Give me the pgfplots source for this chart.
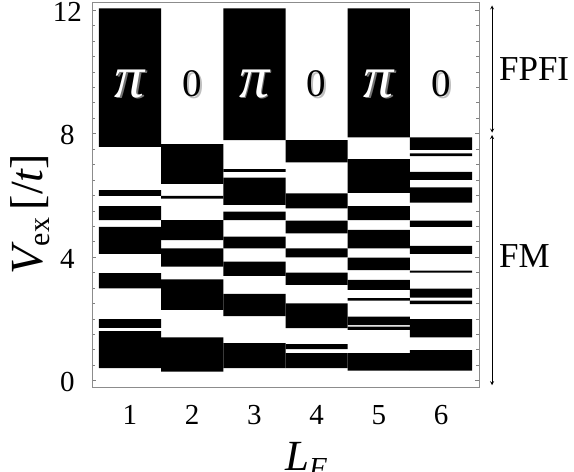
\documentclass[border=0pt]{standalone}
\usepackage{fontspec}
\setmainfont{Liberation Serif}
\usepackage{pgfplots}
\pgfplotsset{compat=1.18}
\begin{document}
\begin{tikzpicture}
\useasboundingbox (-92pt,-84.3pt) rectangle (482pt,387.7pt);
\begin{axis}[
  at={(0,0)}, anchor=south west,
  scale only axis, width=387pt, height=385.7pt,
  xmin=0.39, xmax=6.61, ymin=-0.23, ymax=12.26,
  clip=false,
  axis line style={black!45, line width=0.8pt},
  xtick={1,2,3,4,5,6}, xtick style={draw=none},
  ytick={0,4,8,12}, minor y tick num=7,
  ytick pos=both, yticklabel pos=left,
  tick align=inside,
  major tick length=4pt, minor tick length=3pt,
  every tick/.style={black!50, line width=0.5pt},
  every minor tick/.style={black!50, line width=0.5pt},
  /pgf/number format/assume math mode=true,
  tick label style={font=\fontsize{29}{29}\selectfont},
  yticklabel style={anchor=center, xshift=-24.5pt, yshift=-1.8pt},
  xticklabel style={anchor=center, yshift=-27.5pt},
  xlabel={{\itshape L}\raisebox{-0.35ex}{\fontsize{29}{29}\selectfont\itshape F}},
  xlabel style={at={(axis description cs:0.553,0)}, anchor=base, yshift=-83pt, font=\fontsize{43}{43}\selectfont},
  ylabel={{\itshape V}\raisebox{-0.35ex}{\fontsize{30}{30}\selectfont ex}\,[/{\itshape t}]},
  ylabel style={at={(axis description cs:-0.16,0.45)}, anchor=center, font=\fontsize{46}{46}\selectfont},
  unbounded coords=jump,
]
% column 1
\addplot[fill=black, draw=none] coordinates {
(0.5,7.57)(1.5,7.57)(1.5,12.05)(0.5,12.05)(1,nan)
(0.5,5.98)(1.5,5.98)(1.5,6.17)(0.5,6.17)(1,nan)
(0.5,5.20)(1.5,5.20)(1.5,5.65)(0.5,5.65)(1,nan)
(0.5,4.10)(1.5,4.10)(1.5,4.98)(0.5,4.98)(1,nan)
(0.5,2.99)(1.5,2.99)(1.5,3.48)(0.5,3.48)(1,nan)
(0.5,1.71)(1.5,1.71)(1.5,1.99)(0.5,1.99)(1,nan)
(0.5,0.40)(1.5,0.40)(1.5,1.60)(0.5,1.60)
};
% column 2
\addplot[fill=black, draw=none] coordinates {
(1.5,6.37)(2.5,6.37)(2.5,7.66)(1.5,7.66)(2,nan)
(1.5,5.89)(2.5,5.89)(2.5,5.98)(1.5,5.98)(2,nan)
(1.5,4.55)(2.5,4.55)(2.5,5.20)(1.5,5.20)(2,nan)
(1.5,3.69)(2.5,3.69)(2.5,4.28)(1.5,4.28)(2,nan)
(1.5,2.29)(2.5,2.29)(2.5,3.28)(1.5,3.28)(2,nan)
(1.5,0.29)(2.5,0.29)(2.5,1.40)(1.5,1.40)
};
% column 3
\addplot[fill=black, draw=none] coordinates {
(2.5,7.79)(3.5,7.79)(3.5,12.05)(2.5,12.05)(3,nan)
(2.5,6.76)(3.5,6.76)(3.5,6.85)(2.5,6.85)(3,nan)
(2.5,5.69)(3.5,5.69)(3.5,6.57)(2.5,6.57)(3,nan)
(2.5,5.20)(3.5,5.20)(3.5,5.47)(2.5,5.47)(3,nan)
(2.5,4.28)(3.5,4.28)(3.5,4.66)(2.5,4.66)(3,nan)
(2.5,3.39)(3.5,3.39)(3.5,3.85)(2.5,3.85)(3,nan)
(2.5,2.09)(3.5,2.09)(3.5,2.81)(2.5,2.81)(3,nan)
(2.5,0.40)(3.5,0.40)(3.5,1.21)(2.5,1.21)
};
% column 4
\addplot[fill=black, draw=none] coordinates {
(3.5,7.07)(4.5,7.07)(4.5,7.79)(3.5,7.79)(4,nan)
(3.5,5.58)(4.5,5.58)(4.5,6.06)(3.5,6.06)(4,nan)
(3.5,4.77)(4.5,4.77)(4.5,5.18)(3.5,5.18)(4,nan)
(3.5,3.99)(4.5,3.99)(4.5,4.28)(3.5,4.28)(4,nan)
(3.5,3.10)(4.5,3.10)(4.5,3.50)(3.5,3.50)(4,nan)
(3.5,1.70)(4.5,1.70)(4.5,2.50)(3.5,2.50)(4,nan)
(3.5,1.02)(4.5,1.02)(4.5,1.18)(3.5,1.18)(4,nan)
(3.5,0.40)(4.5,0.40)(4.5,0.89)(3.5,0.89)
};
% column 5
\addplot[fill=black, draw=none] coordinates {
(4.5,7.88)(5.5,7.88)(5.5,12.05)(4.5,12.05)(5,nan)
(4.5,6.08)(5.5,6.08)(5.5,7.17)(4.5,7.17)(5,nan)
(4.5,5.20)(5.5,5.20)(5.5,5.65)(4.5,5.65)(5,nan)
(4.5,4.28)(5.5,4.28)(5.5,4.88)(4.5,4.88)(5,nan)
(4.5,3.58)(5.5,3.58)(5.5,3.98)(4.5,3.98)(5,nan)
(4.5,2.94)(5.5,2.94)(5.5,3.26)(4.5,3.26)(5,nan)
(4.5,2.59)(5.5,2.59)(5.5,2.67)(4.5,2.67)(5,nan)
(4.5,1.80)(5.5,1.80)(5.5,2.07)(4.5,2.07)(5,nan)
(4.5,1.64)(5.5,1.64)(5.5,1.75)(4.5,1.75)(5,nan)
(4.5,0.32)(5.5,0.32)(5.5,0.89)(4.5,0.89)
};
% column 6
\addplot[fill=black, draw=none] coordinates {
(5.5,7.47)(6.5,7.47)(6.5,7.88)(5.5,7.88)(6,nan)
(5.5,7.27)(6.5,7.27)(6.5,7.36)(5.5,7.36)(6,nan)
(5.5,6.50)(6.5,6.50)(6.5,6.76)(5.5,6.76)(6,nan)
(5.5,5.76)(6.5,5.76)(6.5,6.26)(5.5,6.26)(6,nan)
(5.5,4.98)(6.5,4.98)(6.5,5.18)(5.5,5.18)(6,nan)
(5.5,4.10)(6.5,4.10)(6.5,4.36)(5.5,4.36)(6,nan)
(5.5,3.50)(6.5,3.50)(6.5,3.56)(5.5,3.56)(6,nan)
(5.5,2.69)(6.5,2.69)(6.5,2.98)(5.5,2.98)(6,nan)
(5.5,2.48)(6.5,2.48)(6.5,2.59)(5.5,2.59)(6,nan)
(5.5,1.40)(6.5,1.40)(6.5,1.99)(5.5,1.99)(6,nan)
(5.5,0.32)(6.5,0.32)(6.5,0.99)(5.5,0.99)
};
% phase labels
\pgfplotsinvokeforeach{1,3,5}{
  \node[text=black!55, font=\fontsize{60}{60}\selectfont\itshape, xshift=1.5pt, yshift=-1.5pt] at (axis cs:#1,9.62) {π};
  \node[text=white, font=\fontsize{60}{60}\selectfont\itshape] at (axis cs:#1,9.62) {π};
}
\pgfplotsinvokeforeach{2,4,6}{
  \node[text=black!25, font=\fontsize{39}{39}\selectfont, xshift=2pt, yshift=-2pt] at (axis cs:#1,9.62) {0};
  \node[text=black, font=\fontsize{39}{39}\selectfont] at (axis cs:#1,9.62) {0};
}
% regime arrows
\draw[<->, >=stealth, line width=0.8pt] (axis cs:6.82,12.15) -- (axis cs:6.82,8.03);
\draw[<->, >=stealth, line width=0.8pt] (axis cs:6.82,7.95) -- (axis cs:6.82,-0.15);
\node[anchor=west, inner sep=0pt, font=\fontsize{35}{35}\selectfont] at (axis cs:6.93,10.09) {FPFI};
\node[anchor=west, inner sep=0pt, font=\fontsize{35}{35}\selectfont] at (axis cs:6.93,4.03) {FM};
\end{axis}
\end{tikzpicture}
\end{document}
